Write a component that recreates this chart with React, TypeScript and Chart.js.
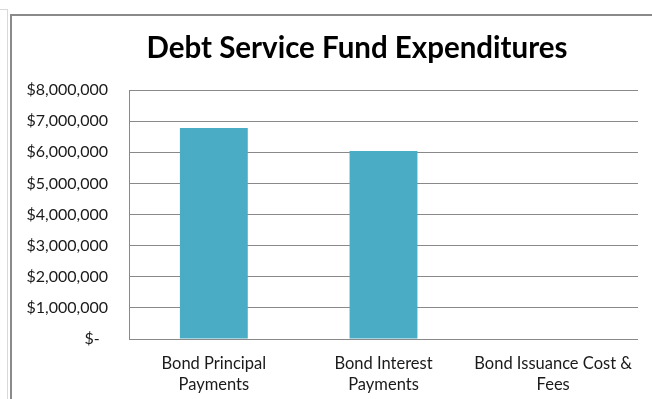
import React, { useEffect, useRef } from "react";
import { Chart, registerables } from "chart.js";

Chart.register(...registerables);

const title = "Debt Service Fund Expenditures";
const categories: string[][] = [
  ["Bond Principal", "Payments"],
  ["Bond Interest", "Payments"],
  ["Bond Issuance Cost &", "Fees"],
];
const expenditures: number[] = [6780000, 6040000, 0];
const yMin = 0;
const yMax = 8000000;
const yStep = 1000000;

const FONT = "Lato, 'Open Sans', sans-serif";

function fmt(v: number): string {
  if (v === 0) return "$-  ";
  return "$" + v.toLocaleString("en-US");
}

const titlePlugin = {
  id: "customTitle",
  afterDraw(chart: any) {
    const ctx = chart.ctx;
    ctx.save();
    ctx.fillStyle = "#000000";
    ctx.font = `bold 29.5px ${FONT}`;
    ctx.textAlign = "center";
    ctx.textBaseline = "alphabetic";
    ctx.fillText(title, 357, 58);
    ctx.restore();
  },
};

export default function App() {
  const ref = useRef<HTMLCanvasElement | null>(null);

  useEffect(() => {
    const canvas = ref.current;
    if (!canvas) return;
    const chart = new Chart(canvas, {
      type: "bar",
      data: {
        labels: categories,
        datasets: [
          {
            data: expenditures,
            backgroundColor: "#4BACC6",
            borderWidth: 0,
            categoryPercentage: 0.4,
            barPercentage: 1,
          },
        ],
      },
      options: {
        animation: false,
        responsive: false,
        maintainAspectRatio: false,
        layout: { padding: { left: 0, right: 14, top: 90, bottom: 0 } },
        plugins: {
          legend: { display: false },
          tooltip: { enabled: false },
          title: { display: false },
        },
        scales: {
          x: {
            grid: { display: false, drawTicks: false },
            border: { display: false },
            ticks: {
              color: "#1a1a1a",
              font: { family: FONT, size: 16.5, lineHeight: 1.28 },
              padding: 14,
              maxRotation: 0,
              autoSkip: false,
            },
            afterFit: (scale: any) => {
              scale.height = 60;
            },
          },
          y: {
            min: yMin,
            max: yMax,
            grid: { color: "#898989", lineWidth: 1, drawTicks: false },
            border: { display: true, color: "#898989", width: 1 },
            ticks: {
              stepSize: yStep,
              color: "#1a1a1a",
              font: { family: FONT, size: 16 },
              padding: 21,
              callback: (v: any) => fmt(Number(v)),
            },
            afterFit: (scale: any) => {
              scale.width = 129;
            },
          },
        },
      },
      plugins: [titlePlugin],
    });
    return () => chart.destroy();
  }, []);

  return (
    <div
      style={{
        position: "fixed",
        left: 0,
        top: 0,
        width: 652,
        height: 399,
        background: "#ffffff",
        overflow: "hidden",
      }}
    >
      <div
        style={{
          position: "absolute",
          left: -2,
          top: 9,
          width: 9,
          height: 420,
          borderTop: "1px solid #d9d9d9",
          borderRight: "1px solid #d9d9d9",
        }}
      />
      <div
        style={{
          position: "absolute",
          left: 10,
          top: 14,
          width: 700,
          height: 420,
          borderTop: "2px solid #8a8a8a",
          borderLeft: "2px solid #8a8a8a",
        }}
      />
      <canvas
        ref={ref}
        width={652}
        height={399}
        style={{ position: "absolute", left: 0, top: 0, width: 652, height: 399 }}
      />
    </div>
  );
}
